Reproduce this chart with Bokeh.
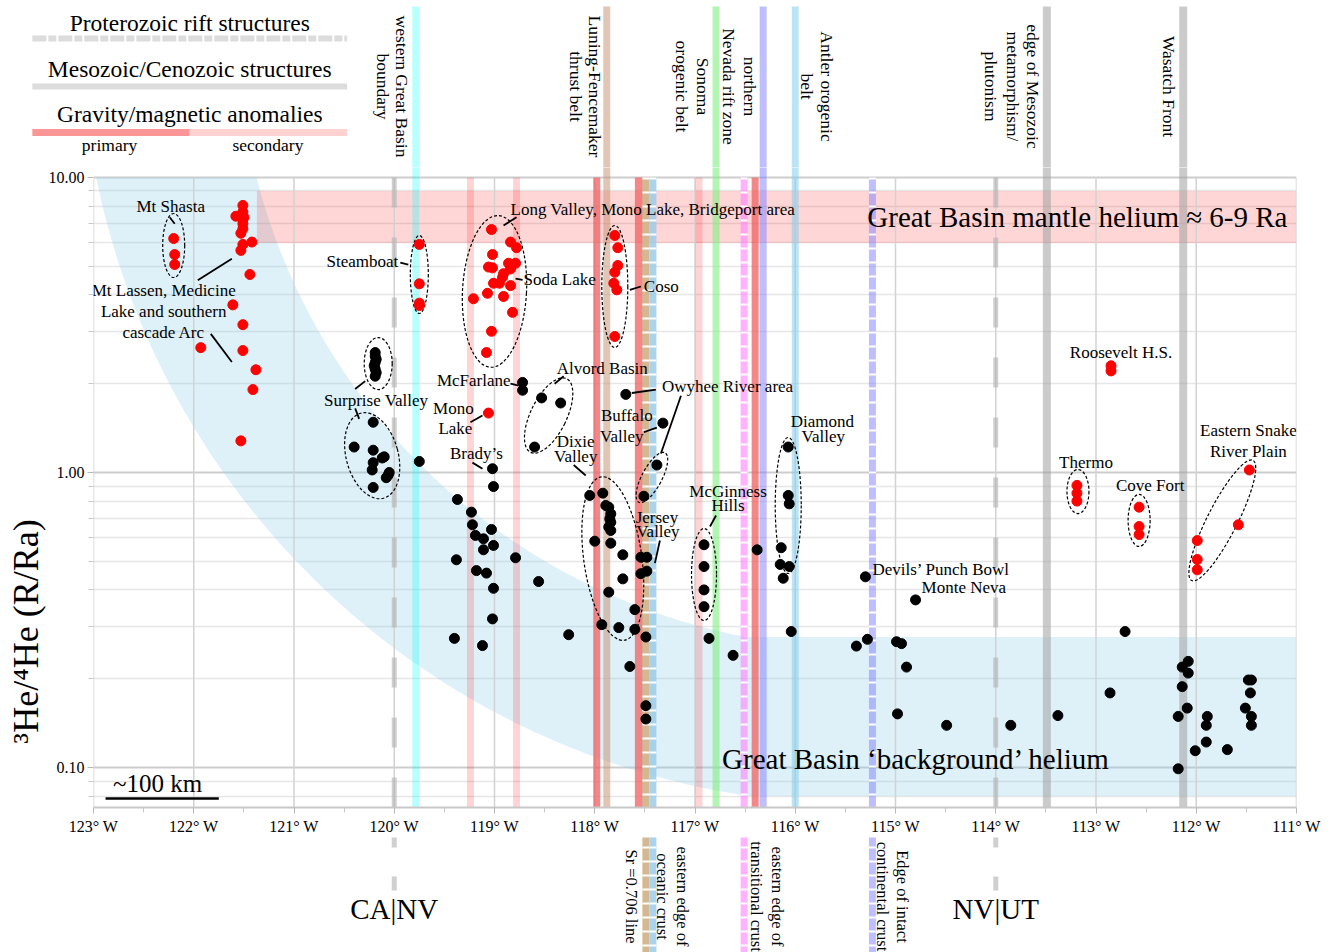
import numpy as np
from bokeh.plotting import figure
from bokeh.models import Range1d, FixedTicker, CustomJSTickFormatter, ColumnDataSource
from bokeh.core.properties import value
from bokeh.embed import file_html
from bokeh.resources import INLINE

# ---------------- data (longitude in degrees W, 3He/4He in R/Ra) ----------------
shasta_lon = [122.20, 122.19, 122.19]
shasta_ra = [6.21, 5.48, 5.07]
lassen_lon = [121.51, 121.51, 121.58, 121.50, 121.51, 121.51, 121.51, 121.53, 121.51, 121.53,
              121.42, 121.44, 121.61, 121.51, 121.93, 121.51, 121.38, 121.41, 121.53]
lassen_ra = [8.04, 7.64, 7.39, 7.33, 7.20, 6.97, 6.70, 6.47, 5.93, 5.66,
             6.04, 4.69, 3.70, 3.17, 2.65, 2.59, 2.23, 1.91, 1.28]
steamboat_lon = [119.75, 119.75, 119.75, 119.75]
steamboat_ra = [5.93, 4.36, 3.75, 3.68]
longvalley_lon = [119.03, 118.84, 118.78, 119.02, 119.06, 119.02, 118.86, 118.79, 118.84, 118.91,
                  118.92, 119.01, 118.95, 118.84, 119.21, 119.07, 118.91, 118.82, 119.03, 119.08]
longvalley_ra = [6.66, 6.04, 5.78, 5.48, 4.97, 4.94, 5.12, 5.12, 4.90, 4.72,
                 4.59, 4.38, 4.38, 4.30, 3.88, 4.05, 3.95, 3.49, 3.01, 2.55]
coso_lon = [117.80, 117.77, 117.77, 117.80, 117.81, 117.78, 117.80]
coso_ra = [6.36, 5.78, 5.03, 4.77, 4.38, 4.16, 2.89]
monolake_lon = [119.06]
monolake_ra = [1.59]
roosevelt_lon = [112.85, 112.85]
roosevelt_ra = [2.30, 2.21]
thermo_lon = [113.19, 113.19, 113.19]
thermo_ra = [0.904, 0.851, 0.80]
covefort_lon = [112.57, 112.57, 112.57]
covefort_ra = [0.763, 0.656, 0.616]
snake_lon = [111.47, 111.58, 111.99, 111.99, 111.99]
snake_ra = [1.02, 0.665, 0.588, 0.507, 0.468]

surprise_lon = [120.19, 120.19, 120.18, 120.19, 120.20, 120.19, 120.18, 120.19,
                120.21, 120.40, 120.21, 120.10, 120.21, 120.22, 120.05, 120.08, 120.21, 120.12, 120.06, 119.75]
surprise_ra = [2.55, 2.48, 2.42, 2.36, 2.30, 2.24, 2.18, 2.12,
               1.48, 1.22, 1.19, 1.13, 1.08, 1.02, 1.00, 0.96, 0.89, 1.12, 0.98, 1.09]
north_lon = [118.72, 118.72, 118.53, 118.34, 118.60, 117.69, 117.38, 117.32]
north_ra = [2.02, 1.90, 1.79, 1.72, 1.22, 1.84, 1.06, 1.47]
diamond_lon = [116.07, 116.07, 116.06, 116.14, 116.15, 116.06, 116.12, 116.04]
diamond_ra = [1.22, 0.836, 0.783, 0.556, 0.488, 0.48, 0.438, 0.289]
brady_lon = [119.02, 119.01, 119.37, 119.23, 119.22, 119.03, 119.19, 119.11, 119.01, 119.11,
             119.38, 118.79, 119.18, 119.08, 118.56, 119.01, 119.02, 119.40, 119.12, 118.26]
brady_ra = [1.03, 0.896, 0.81, 0.734, 0.665, 0.641, 0.612, 0.596, 0.566, 0.547,
            0.506, 0.514, 0.465, 0.456, 0.427, 0.405, 0.319, 0.274, 0.259, 0.282]
dixie_lon = [118.05, 117.92, 117.89, 117.86, 117.84, 117.85, 117.84, 117.86, 117.84, 118.00, 117.84,
             117.72, 117.72, 117.86, 117.60, 117.93, 117.76, 117.60, 117.49, 117.65, 117.49, 117.49]
dixie_ra = [0.836, 0.851, 0.773, 0.763, 0.724, 0.697, 0.678, 0.653, 0.636, 0.585, 0.576,
            0.526, 0.436, 0.393, 0.343, 0.305, 0.298, 0.294, 0.277, 0.22, 0.162, 0.146]
jersey_lon = [117.51, 117.54, 117.48, 117.54, 117.48]
jersey_ra = [0.831, 0.516, 0.516, 0.454, 0.463]
mcginness_lon = [116.91, 116.91, 116.91, 116.91, 116.86, 116.62, 116.38]
mcginness_ra = [0.569, 0.48, 0.40, 0.351, 0.274, 0.24, 0.547]
east_lon = [115.30, 114.80, 115.39, 115.28, 114.99, 114.94, 114.89, 114.98, 114.49, 113.85, 113.38, 112.86, 112.71]
east_ra = [0.443, 0.370, 0.258, 0.272, 0.267, 0.263, 0.219, 0.152, 0.139, 0.139, 0.150, 0.179, 0.289]
wasatch_lon = [112.08, 112.14, 112.08, 112.14, 112.09, 112.18, 111.89, 111.90, 111.90, 112.01, 111.69, 112.18,
               111.45, 111.48, 111.46, 111.51, 111.45, 111.45]
wasatch_ra = [0.229, 0.219, 0.209, 0.188, 0.159, 0.149, 0.149, 0.139, 0.122, 0.114, 0.115, 0.099,
              0.198, 0.198, 0.179, 0.159, 0.149, 0.139]

red_lon = shasta_lon + lassen_lon + steamboat_lon + longvalley_lon + coso_lon + monolake_lon + roosevelt_lon + thermo_lon + covefort_lon + snake_lon
red_ra = shasta_ra + lassen_ra + steamboat_ra + longvalley_ra + coso_ra + monolake_ra + roosevelt_ra + thermo_ra + covefort_ra + snake_ra
black_lon = surprise_lon + north_lon + diamond_lon + brady_lon + dixie_lon + jersey_lon + mcginness_lon + east_lon + wasatch_lon
black_ra = surprise_ra + north_ra + diamond_ra + brady_ra + dixie_ra + jersey_ra + mcginness_ra + east_ra + wasatch_ra

x_ticks = list(range(111, 124))
y_ticks = [0.1, 1.0, 10.0]

# structural lines reaching above the plot (longitude W)
top_bands = [119.785, 117.88, 116.79, 116.32, 116.00, 113.49, 112.13]

# ---------------- geometry / style ----------------
SERIF = "Liberation Serif"
FW, FH = 1203, 640
LEFT, RIGHT = 93, 40
X0, X1 = 123.0, 111.0
Y_LO, Y_HI = 0.0732, 10.81
DEG_PX = FW / (X0 - X1)
PX0 = X0 + LEFT / DEG_PX
PX1 = X1 - RIGHT / DEG_PX
TOT_W = LEFT + FW + RIGHT
MAIN_TOP = 167
MAIN_BOTTOM = 28
BOT_TOP = MAIN_TOP + FH + MAIN_BOTTOM
BOT_END = 952
LAB = "17px"

C_CYAN = ("#00ffff", 0.28)
C_SEC = ("#ff0000", 0.17)
C_PRI = ("#f06060", 0.75)
C_TAN = ("#c89678", 0.55)
C_SR = ("#d2b48c", 0.95)
C_OCE = ("#9ccbe8", 0.85)
C_GRN = ("#80ee80", 0.6)
C_MAG = ("#ff80ff", 0.6)
C_LAV = ("#8080ff", 0.5)
C_ANT = ("#87ceeb", 0.55)
C_GRY = ("#a0a0a0", 0.55)
C_GDS = ("#b0b0b0", 0.6)


def txt(fig, xs, ys, texts, size=LAB, align="center", angle=0.0, baseline="middle"):
    fig.text(x=xs, y=ys, text=texts, text_font=value(SERIF), text_font_size=size,
             text_align=align, text_baseline=baseline, angle=angle, text_color="black")


def vline(fig, lon, y0, y1, col, width=7, dash="solid", white_dash=False):
    fig.segment(x0=[lon], y0=[y0], x1=[lon], y1=[y1], line_color=col[0], line_alpha=col[1],
                line_width=width, line_dash=dash, line_cap="butt")
    if white_dash:
        fig.segment(x0=[lon], y0=[y0], x1=[lon], y1=[y1], line_color="white", line_alpha=1.0,
                    line_width=width, line_dash="2 12", line_cap="butt")


# ---------------- top panel ----------------
top = figure(width=TOT_W, height=MAIN_TOP, x_range=Range1d(PX0, PX1), y_range=Range1d(MAIN_TOP, 0),
             output_backend="svg", toolbar_location=None, x_axis_location=None, y_axis_location=None,
             min_border=0)
top.grid.visible = False
top.outline_line_color = None
for lon, col, w in zip(top_bands, [C_CYAN, C_TAN, C_GRN, C_LAV, C_ANT, C_GRY, C_GRY], [7, 7, 7, 7, 7, 8, 8]):
    vline(top, lon, MAIN_TOP + 5, 6, col, width=w)

leg_l, leg_m, leg_r = 123.61, 122.04, 120.47
txt(top, [leg_m], [22], ["Proterozoic rift structures"], size="23.5px")
top.segment(x0=[leg_l], y0=[38], x1=[leg_r], y1=[38], line_color="#dcdcdc", line_width=6, line_dash="14 2 8 2")
txt(top, [leg_m], [68], ["Mesozoic/Cenozoic structures"], size="23.5px")
top.segment(x0=[leg_l], y0=[86], x1=[leg_r], y1=[86], line_color="#dcdcdc", line_width=6)
txt(top, [leg_m], [113], ["Gravity/magnetic anomalies"], size="23.5px")
top.segment(x0=[leg_l], y0=[132], x1=[leg_m], y1=[132], line_color="#fa9696", line_width=7)
top.segment(x0=[leg_m], y0=[132], x1=[leg_r], y1=[132], line_color="#ffd2d2", line_width=7)
txt(top, [122.84, 121.26], [144, 144], ["primary", "secondary"], size="17.5px")

top_lab_lon = [119.92, 120.11, 118.00, 118.19, 116.92, 117.13, 116.45, 116.66, 115.68, 115.88,
               113.63, 113.83, 114.05, 112.27]
top_lab_txt = ["western Great Basin", "boundary", "Luning-Fencemaker", "thrust belt", "Sonoma",
               "orogenic belt", "northern", "Nevada rift zone", "Antler orogenic", "belt",
               "edge of Mesozoic", "metamorphism/", "plutonism", "Wasatch Front"]
txt(top, top_lab_lon, [86] * len(top_lab_lon), top_lab_txt, size="17.5px", angle=-np.pi / 2)

# ---------------- main panel ----------------
p = figure(frame_width=FW, frame_height=FH, x_range=Range1d(X0, X1), y_range=Range1d(Y_LO, Y_HI),
           y_axis_type="log", output_backend="svg", toolbar_location=None,
           min_border_left=LEFT, min_border_right=RIGHT, min_border_top=0, min_border_bottom=MAIN_BOTTOM)
p.outline_line_color = None

xt = FixedTicker(ticks=x_ticks, minor_ticks=[v + 0.5 for v in x_ticks[:-1]])
yt = FixedTicker(ticks=y_ticks, minor_ticks=[0.08, 0.09] + [k / 10 for k in range(2, 10)] + list(range(2, 10)))
p.xaxis.ticker = xt
p.yaxis.ticker = yt
p.ygrid.ticker = yt
p.xgrid.visible = False
p.xaxis.formatter = CustomJSTickFormatter(code="return tick.toFixed(0) + '° W';")
p.yaxis.formatter = CustomJSTickFormatter(code="return tick.toFixed(2);")
for ax in (p.xaxis, p.yaxis):
    ax.major_label_text_font = SERIF
    ax.major_label_text_font_size = "16px"
    ax.major_label_text_color = "black"
    ax.axis_line_color = "#c8c8c8"
    ax.axis_line_width = 2
    ax.major_tick_line_color = "#b8b8b8"
    ax.minor_tick_line_color = "#c8c8c8"
    ax.major_tick_out = 6
    ax.minor_tick_out = 5
    ax.major_tick_in = 0
    ax.minor_tick_in = 0
p.yaxis.axis_line_color = None
p.xaxis.major_label_standoff = 4
p.yaxis.major_label_standoff = 3
p.yaxis.axis_label = "³He/⁴He (R/Ra)" + "\u00a0" * 32
p.yaxis.axis_label_text_font = SERIF
p.yaxis.axis_label_text_font_size = "36px"
p.yaxis.axis_label_text_font_style = "normal"
p.yaxis.axis_label_text_color = "black"
p.yaxis.axis_label_standoff = 0
p.ygrid.grid_line_color = "#cdcdcd"
p.ygrid.grid_line_width = 2
p.ygrid.minor_grid_line_color = "#e6e6e6"
p.ygrid.minor_grid_line_width = 1.5

# background helium arc (annulus) + rectangle
ARC_LON_C, ARC_LOG_C = 115.32, 1.529
OUT_A, OUT_B = 7.81, 2.654
IN_A, IN_B = 6.251, 2.124
BG_LOW, BG_HIGH = 0.08, 0.277
t_o = np.linspace(np.arcsin((ARC_LOG_C - 1.0) / OUT_B), np.arcsin((ARC_LOG_C - np.log10(BG_LOW)) / OUT_B), 120)
t_i = np.linspace(np.arcsin((ARC_LOG_C - np.log10(BG_HIGH)) / IN_B), np.arcsin((ARC_LOG_C - 1.0) / IN_B), 120)
bx = list(ARC_LON_C + OUT_A * np.cos(t_o)) + [X1, X1] + list(ARC_LON_C + IN_A * np.cos(t_i))
by = list(10 ** (ARC_LOG_C - OUT_B * np.sin(t_o))) + [BG_LOW, BG_HIGH] + list(10 ** (ARC_LOG_C - IN_B * np.sin(t_i)))
p.patch(bx, by, fill_color="#87ceeb", fill_alpha=0.28, line_color=None)

# mantle helium band 6-9 Ra
p.quad(left=[121.37], right=[X1], bottom=[6.0], top=[9.0], fill_color="#ff0000", fill_alpha=0.16, line_color=None)

# vertical grid lines (one per degree) stopping at the 10 Ra line
p.segment(x0=x_ticks, y0=[Y_LO] * len(x_ticks), x1=x_ticks, y1=[10.0] * len(x_ticks),
          line_color="#d2d2d2", line_width=1.5)

main_bands = [
    (119.785, C_CYAN, 7, "solid", False),
    (119.24, C_SEC, 7, "solid", False),
    (118.78, C_SEC, 7, "solid", False),
    (117.98, C_PRI, 7, "solid", False),
    (117.88, C_TAN, 7, "solid", False),
    (117.56, C_PRI, 8, "solid", False),
    (117.49, C_SR, 7, "solid", True),
    (117.42, C_OCE, 7, "solid", True),
    (116.96, C_SEC, 7, "solid", False),
    (116.79, C_GRN, 7, "solid", False),
    (116.51, C_MAG, 7, "solid", True),
    (116.40, C_PRI, 7, "solid", False),
    (116.32, C_LAV, 7, "solid", False),
    (116.00, C_ANT, 7, "solid", False),
    (115.23, C_LAV, 7, "solid", True),
    (120.00, C_GDS, 5, "30 30", False),
    (114.00, C_GDS, 5, "30 30", False),
    (113.49, C_GRY, 8, "solid", False),
    (112.13, C_GRY, 8, "solid", False),
]
for lon, col, w, dash, wd in main_bands:
    top_y = 20.0 if lon in top_bands else 10.0
    vline(p, lon, top_y, 0.05, col, width=w, dash=dash, white_dash=wd)

# dashed outlines around groups
loops = ColumnDataSource(dict(
    x=[122.20, 119.75, 120.16, 120.22, 119.00, 117.80, 118.46, 117.43, 117.82, 116.91, 116.07, 113.18, 112.57, 111.74],
    y=[5.88, 4.69, 2.34, 1.14, 4.11, 4.27, 1.56, 0.962, 0.511, 0.451, 0.773, 0.862, 0.688, 0.688],
    w=[22, 18, 28, 52, 64, 26, 36, 20, 58, 25, 26, 22, 22, 30],
    h=[64, 78, 52, 88, 152, 122, 82, 56, 165, 92, 136, 44, 52, 135],
    a=[0, 0, 0, 15, -3, 0, -26, -28, 8, 0, 0, 0, 0, -27],
))
p.ellipse(x="x", y="y", width="w", height="h", angle="a", angle_units="deg",
          width_units="screen", height_units="screen", source=loops,
          fill_color=None, line_color="black", line_width=1.2, line_dash="3 2")

# leader lines
lead_x0 = [122.24, 121.96, 121.83, 119.94, 120.39, 120.39, 118.91, 118.79, 117.65, 118.84, 118.40, 117.63, 117.14,
           119.24, 117.51, 118.21, 119.22, 116.79, 117.35]
lead_y0 = [7.33, 4.48, 2.95, 5.15, 1.92, 1.65, 6.88, 4.54, 4.16, 2.00, 2.00, 1.86, 1.82,
           1.48, 1.37, 1.06, 1.08, 0.715, 0.588]
lead_x1 = [122.19, 121.62, 121.62, 119.86, 120.29, 120.35, 118.78, 118.72, 117.54, 118.76, 118.31, 117.39, 117.34,
           119.12, 117.38, 118.09, 119.12, 116.85, 117.40]
lead_y1 = [6.97, 5.30, 2.37, 5.07, 2.04, 1.52, 7.33, 4.50, 4.27, 1.97, 2.12, 1.91, 1.16,
           1.56, 1.42, 0.977, 1.03, 0.656, 0.493]
p.segment(x0=lead_x0, y0=lead_y0, x1=lead_x1, y1=lead_y1, line_color="black", line_width=1.8)

# points
p.scatter(black_lon, black_ra, size=10, fill_color="black", line_color="black")
p.scatter(red_lon, red_ra, size=10, fill_color="#ff0000", line_color="#ff0000")

# scale bar
p.segment(x0=[122.88], y0=[0.0785], x1=[121.75], y1=[0.0785], line_color="black", line_width=2.5)
txt(p, [122.36], [0.0885], ["~100 km"], size="25px")

# labels
c_lab = [
    (122.23, 7.97, "Mt Shasta"), (122.30, 4.14, "Mt Lassen, Medicine"), (122.30, 3.51, "Lake and southern"),
    (122.30, 2.98, "cascade Arc"), (120.18, 1.75, "Surprise Valley"), (119.41, 1.65, "Mono"),
    (119.39, 1.41, "Lake"), (117.68, 1.56, "Buffalo"), (117.73, 1.32, "Valley"), (118.19, 1.27, "Dixie"),
    (118.19, 1.13, "Valley"), (119.18, 1.16, "Brady’s"), (115.73, 1.49, "Diamond"), (115.72, 1.32, "Valley"),
    (112.75, 2.56, "Roosevelt H.S."), (111.48, 1.39, "Eastern Snake"), (111.48, 1.18, "River Plain"),
    (113.10, 1.08, "Thermo"), (112.46, 0.904, "Cove Fort"), (116.67, 0.862, "McGinness"),
    (116.67, 0.773, "Hills"), (117.38, 0.706, "Jersey"), (117.37, 0.633, "Valley"),
]
txt(p, [c[0] for c in c_lab], [c[1] for c in c_lab], [c[2] for c in c_lab])
l_lab = [
    (118.84, 7.77, "Long Valley, Mono Lake, Bridgeport area"), (118.71, 4.51, "Soda Lake"), (117.51, 4.27, "Coso"),
    (118.38, 2.25, "Alvord Basin"), (117.33, 1.96, "Owyhee River area"), (115.23, 0.469, "Devils’ Punch Bowl"),
    (114.74, 0.407, "Monte Neva"),
]
txt(p, [c[0] for c in l_lab], [c[1] for c in l_lab], [c[2] for c in l_lab], align="left")
r_lab = [(119.96, 5.19, "Steamboat"), (118.84, 2.05, "McFarlane")]
txt(p, [c[0] for c in r_lab], [c[1] for c in r_lab], [c[2] for c in r_lab], align="right")
txt(p, [111.09], [7.37], ["Great Basin mantle helium ≈ 6-9 Ra"], size="29px", align="right")
txt(p, [116.73], [0.107], ["Great Basin ‘background’ helium"], size="29px", align="left")

# ---------------- bottom panel ----------------
bot = figure(width=TOT_W, height=BOT_END - BOT_TOP, x_range=Range1d(PX0, PX1), y_range=Range1d(BOT_END, BOT_TOP),
             output_backend="svg", toolbar_location=None, x_axis_location=None, y_axis_location=None,
             min_border=0)
bot.grid.visible = False
bot.outline_line_color = None
for lon, col in [(117.49, C_SR), (117.42, C_OCE), (116.51, C_MAG), (115.23, C_LAV)]:
    vline(bot, lon, BOT_TOP - 5, 960, col, width=7, white_dash=True)
for lon in (120.0, 114.0):
    bot.segment(x0=[lon], y0=[888], x1=[lon], y1=[820], line_color=C_GDS[0], line_alpha=C_GDS[1],
                line_width=5, line_dash="14 29", line_cap="butt")
bot_lab_lon = [117.63, 117.12, 117.32, 116.18, 116.39, 114.93, 115.13]
bot_lab_txt = ["Sr =0.706 line", "eastern edge of", "oceanic crust", "eastern edge of", "transitional crust",
               "Edge of intact", "continental crust"]
txt(bot, bot_lab_lon, [894] * len(bot_lab_lon), bot_lab_txt, size="16.5px", angle=-np.pi / 2)
txt(bot, [120.0, 114.0], [906, 906], ["CA|NV", "NV|UT"], size="29px")

html = file_html([top, p, bot], INLINE)
open("out.html", "w").write(html)
